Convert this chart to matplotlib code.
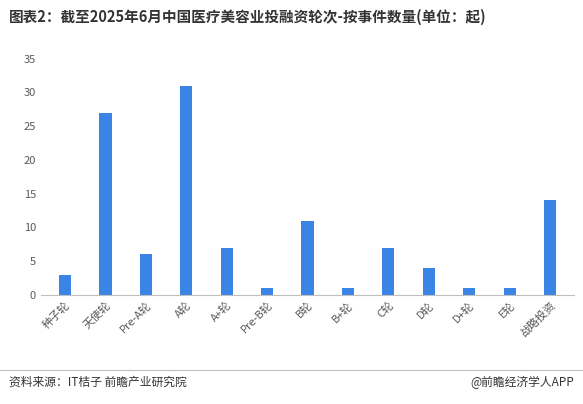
import matplotlib.pyplot as plt

plt.rcParams['font.family'] = ['Noto Sans CJK SC', 'DejaVu Sans']

rounds = ['种子轮', '天使轮', 'Pre-A轮', 'A轮', 'A+轮', 'Pre-B轮', 'B轮', 'B+轮',
          'C轮', 'D轮', 'D+轮', 'E轮', '战略投资']
counts = [3, 27, 6, 31, 7, 1, 11, 1, 7, 4, 1, 1, 14]

fig = plt.figure(figsize=(5.83, 4.04), dpi=100)
ax = fig.add_axes([0.07, 0.27, 0.915, 0.585])
ax.bar(range(len(rounds)), counts, width=0.3, color='#3a84e6')
ax.set_ylim(0, 35)
ax.set_yticks(range(0, 36, 5))
ax.set_xlim(-0.6, len(rounds) - 0.4)
ax.set_xticks(range(len(rounds)))
ax.set_xticklabels(rounds, rotation=45, ha='right', rotation_mode='anchor')
ax.tick_params(axis='both', labelsize=8, colors='#595959', length=0)
for s in ['top', 'right', 'left']:
    ax.spines[s].set_visible(False)
ax.spines['bottom'].set_color('#bfbfbf')

fig.text(0.015, 0.945, '图表2：截至2025年6月中国医疗美容业投融资轮次-按事件数量(单位：起)',
         fontsize=10.5, fontweight='bold', color='#333333')
fig.add_artist(plt.Line2D([0, 1], [0.085, 0.085], color='#bfbfbf', lw=0.8))
fig.text(0.015, 0.045, '资料来源：IT桔子 前瞻产业研究院', fontsize=8.5, color='#333333')
fig.text(0.985, 0.045, '@前瞻经济学人APP', fontsize=8.5, color='#333333', ha='right')

fig.savefig('out.png', dpi=100)
